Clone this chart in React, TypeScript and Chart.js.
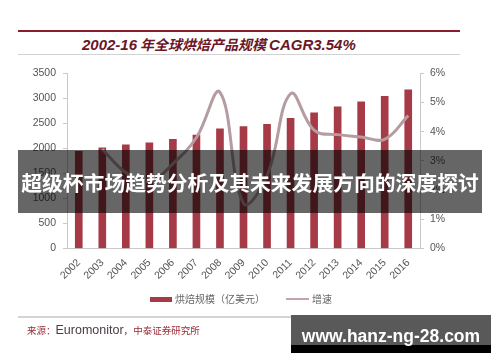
import React, { useEffect, useRef } from "react";
import { Chart, registerables } from "chart.js";

Chart.register(...registerables);

const years = ["2002", "2003", "2004", "2005", "2006", "2007", "2008", "2009", "2010", "2011", "2012", "2013", "2014", "2015", "2016"];
const bakerySize = [1940, 2010, 2070, 2110, 2180, 2265, 2390, 2435, 2480, 2600, 2710, 2830, 2930, 3040, 3170];
const growthRate = [null, 3.4, 2.6, 2.3, 2.9, 3.8, 5.35, 1.55, 2.5, 5.3, 4.05, 3.9, 3.82, 3.74, 4.55];
const leftTicks = [0, 500, 1000, 1500, 2000, 2500, 3000, 3500];
const rightTicks = [0, 1, 2, 3, 4, 5, 6];

const titleText = "2002-16 年全球烘焙产品规模 CAGR3.54%";
const barLabel = "烘焙规模（亿美元）";
const lineLabel = "增速";
const bannerText = "超级杯市场趋势分析及其未来发展方向的深度探讨";
const siteText = "www.hanz-ng-28.com";

const BAR_COLOR = "#a63a46";
const LINE_COLOR = "#b49ca0";
const AXIS_COLOR = "#c9c9c9";
const TICK_FONT = { family: "'Liberation Sans', Arial, sans-serif", size: 10.5 };

const CANVAS_TOP = 60;
const CANVAS_H = 232;

export default function App() {
  const ref = useRef<HTMLCanvasElement | null>(null);

  useEffect(() => {
    if (!ref.current) return;
    const chart = new Chart(ref.current, {
      type: "bar",
      data: {
        labels: years,
        datasets: [
          {
            type: "line",
            label: lineLabel,
            data: growthRate as any,
            borderColor: LINE_COLOR,
            borderWidth: 3,
            tension: 0.4,
            pointRadius: 0,
            yAxisID: "y1",
            order: 1,
            fill: false,
          } as any,
          {
            type: "bar",
            label: barLabel,
            data: bakerySize,
            backgroundColor: BAR_COLOR,
            barThickness: 7,
            yAxisID: "y",
            order: 2,
          },
        ],
      },
      options: {
        responsive: false,
        animation: false,
        devicePixelRatio: 1,
        layout: { padding: { top: 12, left: 0, right: 0, bottom: 0 } },
        plugins: { legend: { display: false }, tooltip: { enabled: false } },
        scales: {
          x: {
            grid: { display: true, drawOnChartArea: false, drawTicks: false },
            border: { color: AXIS_COLOR, width: 1 },
            ticks: {
              autoSkip: false,
              minRotation: 45,
              maxRotation: 45,
              padding: 8,
              color: "#555",
              font: TICK_FONT,
            },
            afterFit: (s: any) => {
              s.height = 43.5;
            },
          },
          y: {
            position: "left",
            min: 0,
            max: 3500,
            afterBuildTicks: (s: any) => {
              s.ticks = leftTicks.map((v) => ({ value: v }));
            },
            grid: { drawOnChartArea: false, tickLength: 4, tickColor: AXIS_COLOR },
            border: { color: AXIS_COLOR, width: 1 },
            ticks: {
              padding: 7,
              color: "#555",
              font: TICK_FONT,
              callback: (v: any) => String(v),
            },
            afterFit: (s: any) => {
              s.width = 67;
            },
          },
          y1: {
            position: "right",
            min: 0,
            max: 6,
            afterBuildTicks: (s: any) => {
              s.ticks = rightTicks.map((v) => ({ value: v }));
            },
            grid: { drawOnChartArea: false, tickLength: 4, tickColor: AXIS_COLOR },
            border: { color: AXIS_COLOR, width: 1 },
            ticks: {
              padding: 6,
              color: "#555",
              font: TICK_FONT,
              callback: (v: any) => v + "%",
            },
            afterFit: (s: any) => {
              s.width = 80;
            },
          },
        },
      },
    });
    return () => chart.destroy();
  }, []);

  const cjk = "'Noto Sans CJK SC', sans-serif";
  const latin = "'Liberation Sans', Arial, 'Noto Sans CJK SC', sans-serif";

  return (
    <div
      style={{
        position: "absolute",
        left: 0,
        top: 0,
        width: 500,
        height: 362,
        background: "#fff",
        overflow: "hidden",
        fontFamily: latin,
      }}
    >
      {/* top red rule */}
      <div style={{ position: "absolute", left: 18, top: 30, width: 442, height: 2, background: "#8a1c2b" }} />
      {/* title */}
      <div
        style={{
          position: "absolute",
          left: 82,
          top: 37,
          lineHeight: "15px",
          fontSize: 15,
          fontWeight: "bold",
          fontStyle: "italic",
          color: "#6c1626",
          whiteSpace: "nowrap",
          fontFamily: latin,
        }}
      >
        {titleText.split(" ").map((part, i) =>
          /[\u4e00-\u9fff]/.test(part) ? (
            <span key={i} style={{ fontFamily: cjk, fontSize: 14, margin: "0 3px" }}>
              {part}
            </span>
          ) : (
            <span key={i}>{part}</span>
          )
        )}
      </div>
      {/* grey rule under title */}
      <div style={{ position: "absolute", left: 18, top: 54, width: 442, height: 1, background: "#d2d2d2" }} />

      <canvas
        ref={ref}
        width={500}
        height={CANVAS_H}
        style={{ position: "absolute", left: 0, top: CANVAS_TOP, width: 500, height: CANVAS_H }}
      />

      {/* legend */}
      <div style={{ position: "absolute", left: 150, top: 297, width: 22, height: 5, background: BAR_COLOR }} />
      <div
        style={{
          position: "absolute",
          left: 175,
          top: 293,
          fontSize: 10,
          lineHeight: "12px",
          color: "#666",
          fontFamily: cjk,
          whiteSpace: "nowrap",
        }}
      >
        {barLabel}
      </div>
      <div style={{ position: "absolute", left: 286, top: 298, width: 23, height: 2, background: "#c4a4a8" }} />
      <div
        style={{
          position: "absolute",
          left: 312,
          top: 293,
          fontSize: 10,
          lineHeight: "12px",
          color: "#666",
          fontFamily: cjk,
          whiteSpace: "nowrap",
        }}
      >
        {lineLabel}
      </div>

      {/* bottom rule */}
      <div style={{ position: "absolute", left: 18, top: 316, width: 385, height: 2, background: "#d4d4d4" }} />
      {/* source */}
      <div
        style={{
          position: "absolute",
          left: 27,
          top: 323,
          lineHeight: "14px",
          whiteSpace: "nowrap",
          fontSize: 12,
        }}
      >
        <span style={{ fontFamily: cjk, fontSize: 9.5, color: "#9a2a35" }}>来源：</span>
        <span style={{ fontFamily: latin, fontSize: 12.5, color: "#4a3a45" }}>Euromonitor</span>
        <span style={{ fontFamily: cjk, fontSize: 9.5, color: "#4a3a45" }}>，</span>
        <span style={{ fontFamily: cjk, fontSize: 9.5, color: "#9a2a35" }}>中泰证券研究所</span>
      </div>

      {/* overlay banner */}
      <div
        style={{
          position: "absolute",
          left: 18,
          top: 150,
          width: 464,
          height: 63,
          background: "rgba(0,0,0,0.6)",
          display: "flex",
          alignItems: "center",
          justifyContent: "center",
        }}
      >
        <span
          style={{
            color: "#fff",
            fontWeight: "bold",
            fontSize: 20.8,
            fontFamily: cjk,
            whiteSpace: "nowrap",
            lineHeight: 1,
            marginTop: 2,
          }}
        >
          {bannerText}
        </span>
      </div>

      {/* site badge */}
      <div style={{ position: "absolute", left: 291, top: 315, width: 200, height: 30, background: "#595959" }} />
      <div style={{ position: "absolute", left: 291, top: 345, width: 200, height: 8, background: "#000" }} />
      <div
        style={{
          position: "absolute",
          left: 291,
          top: 328,
          width: 200,
          textAlign: "center",
          color: "#fff",
          fontWeight: "bold",
          fontSize: 17.5,
          lineHeight: 1,
          fontFamily: "'Liberation Sans', Arial, sans-serif",
          whiteSpace: "nowrap",
        }}
      >
        {siteText}
      </div>
    </div>
  );
}
